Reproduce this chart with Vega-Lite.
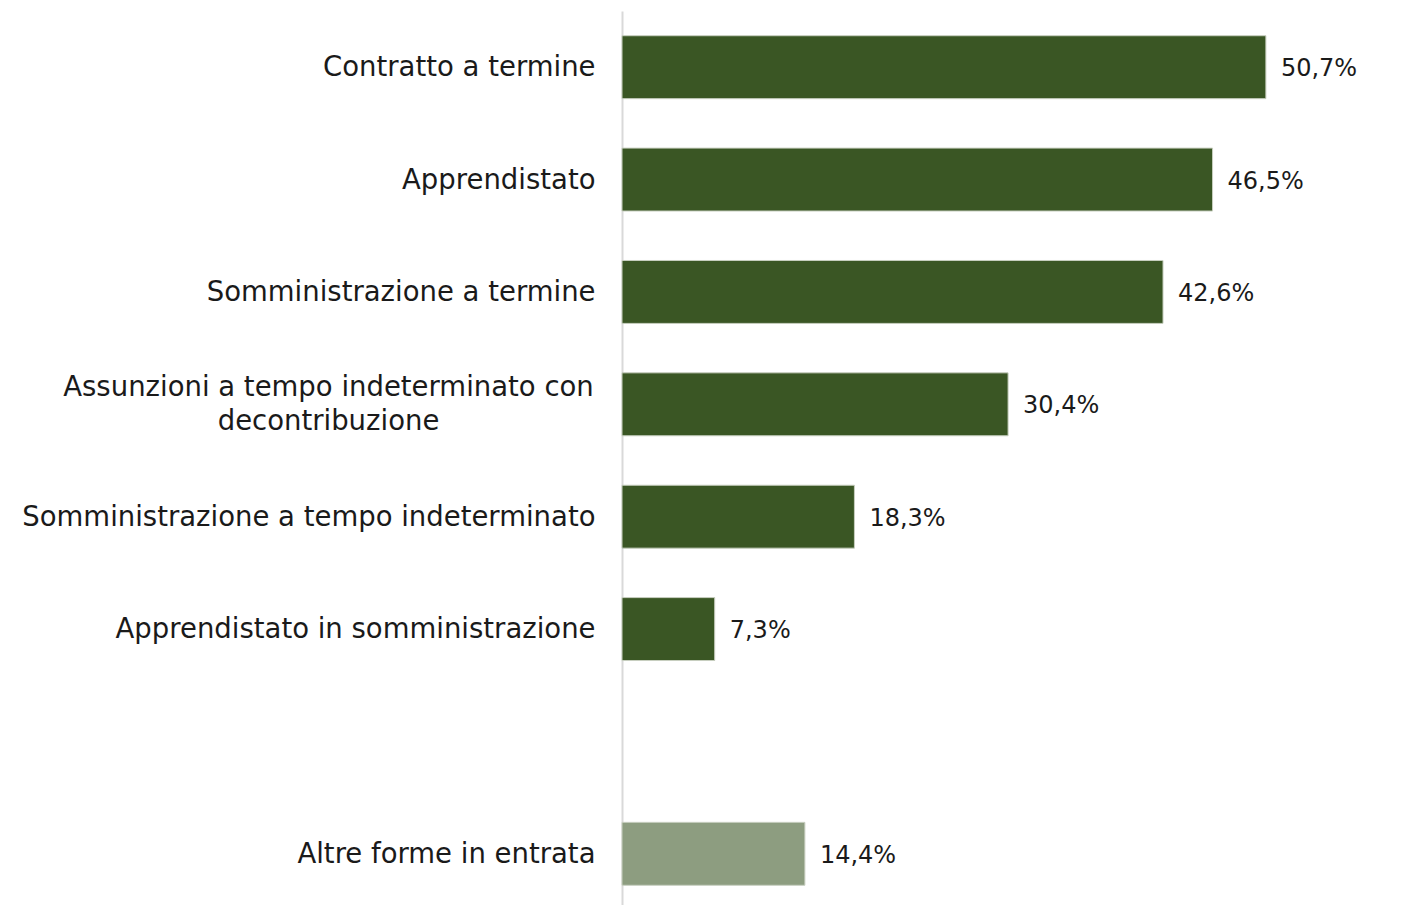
{
  "$schema": "https://vega.github.io/schema/vega-lite/v6.json",
  "autosize": {"type": "none"},
  "width": 762,
  "height": 899,
  "padding": {"left": 622, "top": 11, "right": 38, "bottom": 0},
  "background": "white",
  "config": {
    "view": {"stroke": null},
    "locale": {"number": {"decimal": ",", "thousands": ".", "grouping": [3], "currency": ["€", ""]}},
    "font": "DejaVu Sans"
  },
  "data": {
    "values": [
      {"categoria": "Contratto a termine", "valore": 0.507, "tipo": "pieno"},
      {"categoria": "Apprendistato", "valore": 0.465, "tipo": "pieno"},
      {"categoria": "Somministrazione a termine", "valore": 0.426, "tipo": "pieno"},
      {"categoria": "Assunzioni a tempo indeterminato con decontribuzione", "valore": 0.304, "tipo": "pieno"},
      {"categoria": "Somministrazione a tempo indeterminato", "valore": 0.183, "tipo": "pieno"},
      {"categoria": "Apprendistato in somministrazione", "valore": 0.073, "tipo": "pieno"},
      {"categoria": "Altre forme in entrata", "valore": 0.144, "tipo": "retinato"}
    ]
  },
  "encoding": {
    "y": {
      "field": "categoria",
      "type": "nominal",
      "title": null,
      "scale": {
        "domain": [
          "Contratto a termine",
          "Apprendistato",
          "Somministrazione a termine",
          "Assunzioni a tempo indeterminato con decontribuzione",
          "Somministrazione a tempo indeterminato",
          "Apprendistato in somministrazione",
          " ",
          "Altre forme in entrata"
        ],
        "paddingInner": 0.44,
        "paddingOuter": 0.22
      },
      "axis": {
        "domain": true,
        "domainColor": "#d9d9d9",
        "domainWidth": 2,
        "ticks": false,
        "labelFontSize": 27.5,
        "labelColor": "#1a1a1a",
        "labelLimit": 700,
        "labelLineHeight": 34,
        "labelExpr": "datum.value == 'Assunzioni a tempo indeterminato con decontribuzione' ? ['Assunzioni a tempo indeterminato con', 'decontribuzione'] : datum.value",
        "labelAlign": {"condition": {"test": "datum.value == 'Assunzioni a tempo indeterminato con decontribuzione'", "value": "center"}, "value": "right"},
        "labelPadding": {"condition": {"test": "datum.value == 'Assunzioni a tempo indeterminato con decontribuzione'", "value": 294}, "value": 27},
        "labelOffset": {"condition": {"test": "datum.value == 'Assunzioni a tempo indeterminato con decontribuzione'", "value": -16}, "value": 1}
      }
    },
    "x": {
      "field": "valore",
      "type": "quantitative",
      "scale": {"domain": [0, 0.6]},
      "axis": null
    }
  },
  "layer": [
    {
      "mark": {"type": "bar", "stroke": "#c8cfc0", "strokeWidth": 1},
      "encoding": {
        "color": {
          "field": "tipo",
          "type": "nominal",
          "scale": {"domain": ["pieno", "retinato"], "range": ["#3a5624", "#8d9d80"]},
          "legend": null
        }
      }
    },
    {
      "mark": {"type": "text", "align": "left", "baseline": "middle", "dx": 15, "dy": 2, "fontSize": 24, "color": "#1a1a1a"},
      "encoding": {
        "text": {"field": "valore", "type": "quantitative", "format": ".1%"}
      }
    }
  ]
}
